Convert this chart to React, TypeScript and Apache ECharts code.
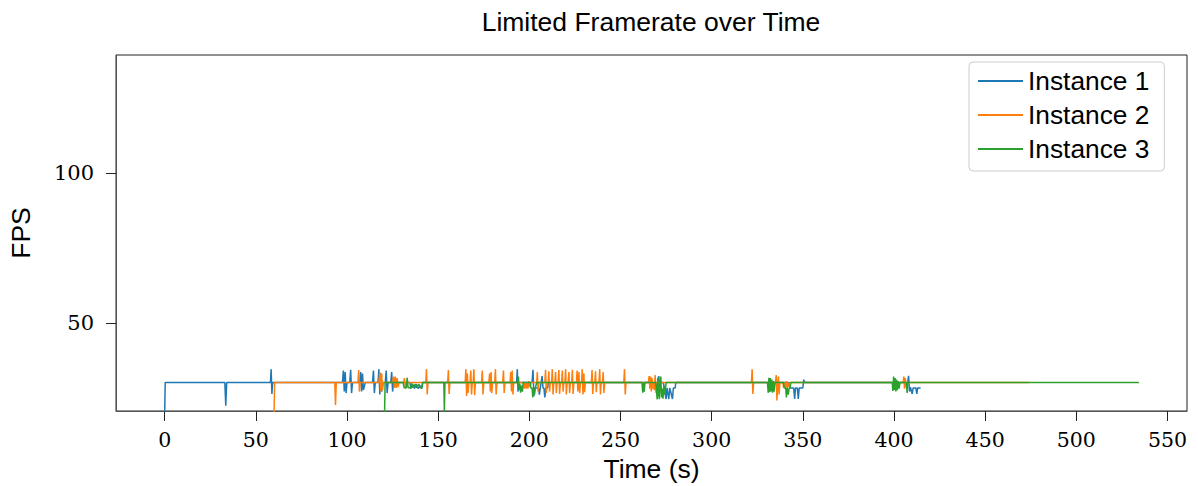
import React, { useEffect, useRef } from "react";
import * as echarts from "echarts";

const seriesNames = ["Instance 1", "Instance 2", "Instance 3"];
const xTicks = [0, 50, 100, 150, 200, 250, 300, 350, 400, 450, 500, 550];
const yTicks = [50, 100];

const instance1: [number, number][] = [
  [0, 20], [0.3, 30],
  [33, 30], [33.5, 22.3], [34, 30],
  [58, 30], [58.4, 34.5], [58.8, 26.2], [59.2, 30],
  [97.5, 30], [98, 34], [98.5, 27], [99, 33.5], [99.5, 26.5], [100, 30],
  [101.5, 30], [102, 34.3], [102.5, 26.5], [103, 30],
  [107, 30], [107.5, 33.5], [108, 27], [108.5, 33], [109, 27.5], [110, 30],
  [114, 30], [114.5, 34], [115, 26.5], [115.5, 30],
  [117, 30], [117.5, 34.5], [118, 26], [118.5, 33], [119, 27], [119.5, 30],
  [121, 30], [121.5, 34], [122, 26.5], [122.5, 30],
  [124, 30], [124.5, 33.5], [125, 27], [125.5, 30],
  [134.5, 30], [135, 28], [136, 29.5], [137, 28], [138, 29.5], [139, 28], [140, 29], [141, 28], [141.5, 30],
  [193, 30], [193.4, 34.5], [193.8, 27], [194.2, 30],
  [201.5, 30], [202, 34.3], [202.5, 25.5], [203, 28.2], [205, 28.2], [205.5, 26], [206, 28.2],
  [207, 32.2], [207.5, 28.2], [208, 28.2], [208.5, 25], [209, 28.2], [210, 28.2], [210.5, 30],
  [270.5, 30], [271, 32.2], [271.5, 28.5], [272, 30],
  [273.5, 30], [274, 28.2], [275, 24.5], [275.5, 28.2], [276.5, 24.5], [277, 28.2], [278.5, 24.5], [279, 28.2], [280, 28.2], [280.3, 30],
  [342.5, 30], [343, 28.2], [345, 28.2], [345.5, 24.5], [346, 28.2], [347, 28.2], [347.5, 24.5], [348, 28.2], [350, 28.2], [350.5, 31], [351, 30],
  [407.5, 30], [408, 32.3], [408.5, 27], [409, 28.5], [410, 26.2], [410.5, 28.2], [412, 28.2], [412.5, 26.2], [413, 28.2], [414.6, 28.2],
];

const instance2: [number, number][] = [
  [60, 20], [60.3, 30],
  [93.3, 30], [93.7, 22.5], [94.1, 30],
  [106, 30], [106.4, 34.2], [106.8, 27], [107.2, 30],
  [117.5, 30], [118, 33.5], [118.5, 27], [119, 33], [119.5, 27.5], [120, 30],
  [125, 30], [125.5, 32], [126, 28.2], [126.5, 32], [127, 28.2], [127.5, 31.5], [128, 28.5], [128.5, 30],
  [131, 30], [131.5, 31.5], [132, 28], [132.5, 30],
  [143.2, 30], [143.6, 34.5], [144, 26], [144.4, 30],
  [155.2, 30], [155.6, 34.2], [156, 26.2], [156.4, 30],
  [164.8, 30], [165.2, 34.5], [165.6, 25.5], [166, 33], [166.4, 26.5], [166.8, 30],
  [167.5, 30], [167.9, 34], [168.3, 26], [168.7, 30],
  [169.2, 30], [169.6, 34.5], [170, 25.8], [170.4, 30],
  [173.8, 30], [174.2, 34], [174.6, 26], [175, 30],
  [177.8, 30], [178.2, 33], [178.6, 27], [179, 33.5], [179.4, 26.5], [179.8, 30],
  [181, 30], [181.4, 34.5], [181.8, 26], [182.2, 30],
  [185.4, 30], [185.8, 34], [186.2, 26.5], [186.6, 30],
  [189.4, 30], [189.8, 33.5], [190.2, 27], [190.6, 34], [191, 26], [191.4, 30],
  [196.8, 30], [197.2, 28], [197.8, 30], [198.2, 28], [198.8, 30], [199.2, 28], [199.8, 30.5], [200.4, 28.5], [200.8, 30],
  [204, 30], [204.4, 33.5], [204.8, 27], [205.2, 30],
  [208.5, 30], [208.9, 34.3], [209.3, 26.5], [209.7, 30],
  [210.3, 30], [210.7, 33.8], [211.1, 27], [211.5, 30],
  [212.2, 30], [212.6, 34.5], [213, 26], [213.4, 30],
  [214, 30], [214.4, 33.5], [214.8, 26.5], [215.2, 30],
  [215.8, 30], [216.2, 34.2], [216.6, 26.2], [217, 30],
  [217.7, 30], [218.1, 34], [218.5, 27], [218.9, 30],
  [219.5, 30], [219.9, 34.5], [220.3, 26], [220.7, 30],
  [221.3, 30], [221.7, 33.5], [222.1, 26.5], [222.5, 30],
  [223.2, 30], [223.6, 34.3], [224, 26.2], [224.4, 30],
  [225.8, 30], [226.2, 34], [226.6, 27], [227.2, 33.5], [227.6, 26.5], [228, 30],
  [228.6, 30], [229, 34.5], [229.4, 26], [229.9, 33], [230.3, 26.8], [230.7, 30],
  [234, 30], [234.4, 34.2], [234.8, 26.2], [235.2, 30],
  [235.9, 30], [236.3, 33.8], [236.7, 26.8], [237.1, 30],
  [238.2, 30], [238.6, 34.5], [239, 26], [239.4, 30],
  [240.1, 30], [240.5, 33.5], [240.9, 26.5], [241.3, 30],
  [251.8, 30], [252.2, 34.5], [252.6, 26], [253, 30],
  [265.3, 30], [265.7, 32.2], [266.1, 28], [266.5, 32], [266.9, 27], [267.3, 31.5], [267.7, 28], [268.2, 30], [268.6, 27.5], [269, 32.5], [269.5, 26.5], [270, 30],
  [321.8, 30], [322.2, 34.5], [322.6, 26.2], [323, 30],
  [335, 30], [335.4, 32.5], [335.8, 24], [336.2, 29], [336.6, 32], [337, 26], [337.4, 30],
  [339, 30], [339.5, 28.2], [340, 30], [340.5, 28.2], [341, 30.5], [341.5, 28.2], [342, 30], [342.5, 28.5], [343, 30],
  [405, 30], [405.4, 32], [405.8, 28], [406.2, 31.5], [406.6, 28.5], [407, 30],
  [474, 30],
];

const instance3: [number, number][] = [
  [120.6, 20], [120.9, 30],
  [130.8, 30], [131.3, 28.3], [132.5, 28.3], [133, 31.6], [133.5, 28.3], [135, 28.3], [135.5, 29.7], [136, 28.3],
  [137.5, 29.5], [138, 28.3], [139.5, 29.5], [140, 28.3], [141, 28.3], [141.5, 30],
  [153.1, 30], [153.4, 20], [153.7, 30],
  [193.6, 30], [194, 32], [194.4, 27.5], [194.8, 29.5], [195.2, 26.6], [195.6, 29], [196.2, 27], [196.6, 30],
  [200.5, 30], [200.8, 28.2], [201.5, 28.2], [201.9, 25], [202.3, 28.2], [202.8, 26], [203.3, 28.2], [204, 30],
  [261.8, 30], [262.2, 26.6], [262.6, 30], [263, 27], [263.4, 30],
  [269.3, 30], [269.7, 28], [270.1, 24.4], [270.5, 31.7], [270.9, 26], [271.3, 24.5], [271.7, 29], [272.1, 32], [272.5, 25],
  [272.9, 28], [273.3, 24.6], [273.8, 29], [274.3, 26], [275, 30],
  [330.6, 30], [331, 26.6], [331.4, 31.6], [331.8, 26.8], [332.2, 31.5], [332.6, 27], [333, 31], [333.4, 26.6], [333.8, 30.5], [334.2, 27], [334.8, 30],
  [339.4, 30], [339.8, 28.2], [340.6, 28.2], [341, 25], [341.4, 28.2], [342, 26], [342.5, 28.2], [343, 28.2], [343.4, 30],
  [399, 30], [399.4, 27.2], [399.8, 32], [400.2, 27.5], [400.6, 31.5], [401, 27], [401.4, 31], [401.8, 27.5], [402.3, 30.5], [402.8, 28], [403.3, 30],
  [406.8, 30], [407.2, 26.5], [407.6, 30],
  [534.3, 30],
];

const colors = ["#1f77b4", "#ff7f0e", "#2ca02c"];
const SANS = "'Liberation Sans', Arial, sans-serif";
const SERIF = "'DejaVu Serif', serif";

export default function App() {
  const ref = useRef<HTMLDivElement>(null);
  useEffect(() => {
    if (!ref.current) return;
    const chart = echarts.init(ref.current, null, { renderer: "svg" });
    const data = [instance1, instance2, instance3];
    chart.setOption({
      animation: false,
      backgroundColor: "#fff",
      graphic: [
        {
          type: "text",
          x: 651,
          y: 8,
          style: {
            text: "Limited Framerate over Time",
            textAlign: "center",
            textVerticalAlign: "top",
            fontSize: 26.5,
            fontFamily: SANS,
            fill: "#000",
          },
        },
      ],
      grid: {
        left: 116,
        top: 55,
        right: 11,
        bottom: 75,
        show: true,
        borderColor: "#222",
        borderWidth: 1,
        containLabel: false,
        outerBoundsMode: "none",
      },
      legend: {
        orient: "vertical",
        left: 969,
        top: 62,
        data: seriesNames,
        icon: "rect",
        itemWidth: 45,
        itemHeight: 2,
        itemGap: 8,
        backgroundColor: "#fff",
        borderColor: "#ccc",
        borderWidth: 1,
        borderRadius: 4,
        padding: [6, 15, 9, 9],
        textStyle: { fontSize: 26.3, fontFamily: SANS, color: "#000", lineHeight: 26 },
      },
      xAxis: {
        type: "value",
        min: -26.7,
        max: 560.7,
        name: "Time (s)",
        nameLocation: "middle",
        nameGap: 44,
        nameTextStyle: { fontSize: 26.5, fontFamily: SANS, color: "#000" },
        splitLine: { show: false },
        axisLine: { show: true, onZero: false, lineStyle: { color: "#555", width: 1 } },
        axisTick: { show: true, length: 10, customValues: xTicks, lineStyle: { color: "#222", width: 1 } },
        axisLabel: { customValues: xTicks, fontSize: 20.5, fontFamily: SERIF, color: "#000", margin: 18 },
      },
      yAxis: {
        type: "value",
        min: 20.5,
        max: 139.6,
        name: "FPS",
        nameLocation: "middle",
        nameGap: 82,
        nameRotate: 90,
        nameTextStyle: { fontSize: 26.5, fontFamily: SANS, color: "#000" },
        splitLine: { show: false },
        axisLine: { show: true, onZero: false, lineStyle: { color: "#555", width: 1 } },
        axisTick: { show: true, length: 10, customValues: yTicks, lineStyle: { color: "#222", width: 1 } },
        axisLabel: { customValues: yTicks, fontSize: 21, fontFamily: SERIF, color: "#000", margin: 22 },
      },
      series: seriesNames.map((name, i) => ({
        name,
        type: "line",
        data: data[i],
        symbol: "none",
        showSymbol: false,
        clip: true,
        color: colors[i],
        lineStyle: { width: 1.5, color: colors[i] },
      })),
    });
    return () => chart.dispose();
  }, []);
  return (
    <div
      ref={ref}
      style={{ position: "absolute", left: 0, top: 0, width: 1198, height: 486 }}
    />
  );
}
